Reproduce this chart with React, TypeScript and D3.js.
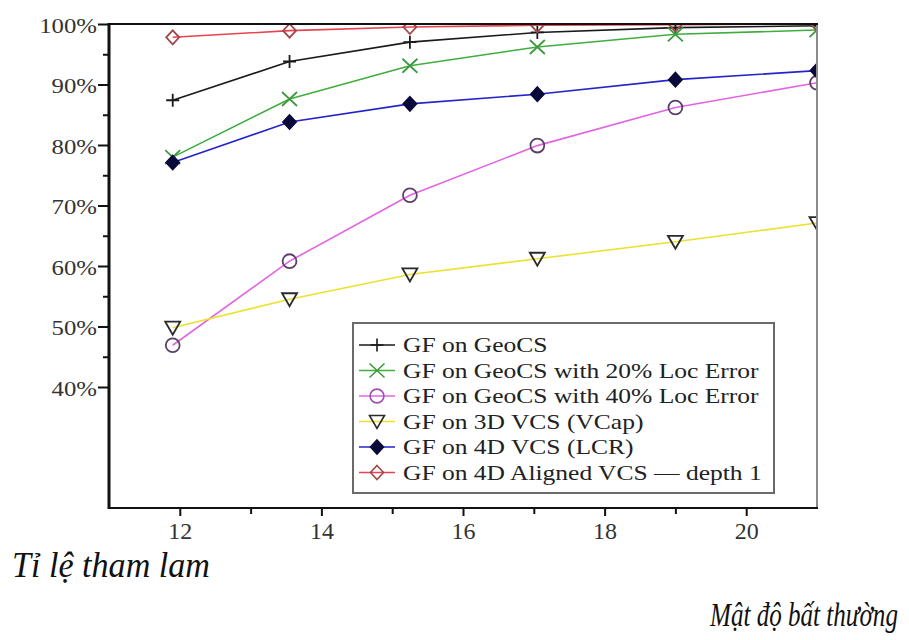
import React, { useEffect, useRef } from "react";
import * as d3 from "d3";

// anomaly density (x) and greedy ratio in % (y)
const densities = [11.9, 13.55, 15.25, 17.05, 19.0, 21.0];
const geoCS = [87.4, 93.8, 97.0, 98.6, 99.4, 99.7];
const geoCS20 = [78.0, 87.6, 93.1, 96.2, 98.3, 99.0];
const geoCS40 = [46.9, 60.8, 71.7, 79.9, 86.2, 90.3];
const vcs3d = [49.8, 54.5, 58.6, 61.2, 64.0, 67.1];
const vcs4d = [77.1, 83.8, 86.8, 88.4, 90.8, 92.3];
const aligned4d = [97.8, 98.9, 99.5, 99.8, 99.9, 100];

const seriesNames = [
  "GF on GeoCS",
  "GF on GeoCS with 20% Loc Error",
  "GF on GeoCS with 40% Loc Error",
  "GF on 3D VCS (VCap)",
  "GF on 4D VCS (LCR)",
  "GF on 4D Aligned VCS \u2014 depth 1",
];

const yTickValues = [40, 50, 60, 70, 80, 90, 100];
const yMinorValues = [45, 55, 65, 75, 85, 95];
const xTickValues = [12, 14, 16, 18, 20];
const xMinorValues = [13, 15, 17, 19];

const yLabel = "Tỉ lệ tham lam";
const xLabel = "Mật độ bất thường";

const serif = "Liberation Serif, Times New Roman, serif";

const markerPaths = {
  plus: "M-6.5,0H6.5M0,-6.5V6.5",
  cross: "M-7.5,-7L7.5,7M-7.5,7L7.5,-7",
  circle: d3.symbol(d3.symbolCircle, 150)(),
  triangle: "M-7.5,-6L7.5,-6L0,7Z",
  diamond: "M0,-7L6.5,0L0,7L-6.5,0Z",
};

const series = [
  { name: seriesNames[0], values: geoCS, line: "#1a1a1a", marker: "plus", stroke: "#1a1a1a", fill: "none" },
  { name: seriesNames[1], values: geoCS20, line: "#3fae3f", marker: "cross", stroke: "#3f9a3f", fill: "none" },
  { name: seriesNames[2], values: geoCS40, line: "#e264e2", marker: "circle", stroke: "#5a4068", fill: "none" },
  { name: seriesNames[3], values: vcs3d, line: "#ece12c", marker: "triangle", stroke: "#2a2a2a", fill: "none" },
  { name: seriesNames[4], values: vcs4d, line: "#2424c8", marker: "diamond", stroke: "#0a0a3a", fill: "#0a0a3a" },
  { name: seriesNames[5], values: aligned4d, line: "#e8424e", marker: "diamond", stroke: "#a0484c", fill: "none" },
];

// condensed italic label: shrink the font until it fits the width, then
// stretch it back up vertically so it keeps the tall look of the source
function condensedLabel(svg, text, x0, y0, size, width) {
  const t = svg
    .append("text")
    .attr("font-size", size)
    .attr("font-style", "italic")
    .attr("fill", "#111")
    .text(text);
  const len = t.node().getComputedTextLength();
  const fitted = (size * width) / len;
  t.attr("font-size", fitted).attr(
    "transform",
    "translate(" + x0 + "," + y0 + ") scale(1," + size / fitted + ")"
  );
}

function drawChart(element) {
  d3.select(element).selectAll("*").remove();

  const left = 109;
  const right = 817;
  const top = 24;
  const bottom = 508;

  const x = d3.scaleLinear().domain([11, 21]).range([left, right]);
  const y = d3.scaleLinear().domain([20, 100]).range([bottom, top]);

  const svg = d3
    .select(element)
    .attr("width", 909)
    .attr("height", 640)
    .style("font-family", serif);

  svg.append("rect").attr("width", 909).attr("height", 640).attr("fill", "#fff");

  svg
    .append("defs")
    .append("clipPath")
    .attr("id", "plot-clip")
    .append("rect")
    .attr("x", left)
    .attr("y", top)
    .attr("width", right - left)
    .attr("height", bottom - top);

  // y axis, major + minor
  const yAxis = svg
    .append("g")
    .attr("transform", "translate(" + left + ",0)")
    .call(d3.axisLeft(y).tickValues(yTickValues).tickSize(11).tickFormat((d) => d + "%"))
    .attr("font-family", serif);
  yAxis.select(".domain").remove();
  yAxis.selectAll("line").attr("stroke", "#111").attr("stroke-width", 2);
  yAxis
    .selectAll("text")
    .attr("x", 0)
    .attr("dy", "0.42em")
    .attr("transform", "translate(-12,0) scale(1.24,1)")
    .attr("font-size", 20)
    .attr("fill", "#333")
    .attr("text-anchor", "end");

  const yMinor = svg
    .append("g")
    .attr("transform", "translate(" + left + ",0)")
    .call(d3.axisLeft(y).tickValues(yMinorValues).tickSize(6).tickFormat(() => ""));
  yMinor.select(".domain").remove();
  yMinor.selectAll("line").attr("stroke", "#111").attr("stroke-width", 2);

  // x axis, major + minor
  const xAxis = svg
    .append("g")
    .attr("transform", "translate(0," + bottom + ")")
    .call(d3.axisBottom(x).tickValues(xTickValues).tickSize(8).tickPadding(6))
    .attr("font-family", serif);
  xAxis.select(".domain").remove();
  xAxis.selectAll("line").attr("stroke", "#111").attr("stroke-width", 2);
  xAxis.selectAll("text").attr("font-size", 24).attr("fill", "#333");

  const xMinor = svg
    .append("g")
    .attr("transform", "translate(0," + bottom + ")")
    .call(d3.axisBottom(x).tickValues(xMinorValues).tickSize(6).tickFormat(() => ""));
  xMinor.select(".domain").remove();
  xMinor.selectAll("line").attr("stroke", "#111").attr("stroke-width", 2);

  // lines and markers
  const plot = svg.append("g").attr("clip-path", "url(#plot-clip)");

  const line = d3
    .line()
    .x((d, i) => x(densities[i]))
    .y((d) => y(d));

  series.forEach((s) => {
    plot
      .append("path")
      .datum(s.values)
      .attr("fill", "none")
      .attr("stroke", s.line)
      .attr("stroke-width", 1.6)
      .attr("d", line);
  });

  series.forEach((s) => {
    plot
      .selectAll(null)
      .data(s.values)
      .join("path")
      .attr("transform", (d, i) => "translate(" + x(densities[i]) + "," + y(d) + ")")
      .attr("d", markerPaths[s.marker])
      .attr("fill", s.fill)
      .attr("stroke", s.stroke)
      .attr("stroke-width", 1.8);
  });

  // frame
  svg
    .append("line")
    .attr("x1", right)
    .attr("x2", right)
    .attr("y1", top)
    .attr("y2", bottom)
    .attr("stroke", "#8a8a8a")
    .attr("stroke-width", 2);
  svg
    .append("line")
    .attr("x1", left)
    .attr("x2", right + 1)
    .attr("y1", top)
    .attr("y2", top)
    .attr("stroke", "#111")
    .attr("stroke-width", 2);
  svg
    .append("line")
    .attr("x1", left)
    .attr("x2", right + 1)
    .attr("y1", bottom)
    .attr("y2", bottom)
    .attr("stroke", "#111")
    .attr("stroke-width", 2);
  svg
    .append("line")
    .attr("x1", left)
    .attr("x2", left)
    .attr("y1", top - 1)
    .attr("y2", bottom + 1)
    .attr("stroke", "#111")
    .attr("stroke-width", 3);

  // legend
  const legend = svg.append("g").attr("transform", "translate(353,323)");
  legend
    .append("rect")
    .attr("width", 421)
    .attr("height", 170)
    .attr("fill", "#fff")
    .attr("stroke", "#6a6a6a")
    .attr("stroke-width", 2);

  const rows = legend
    .selectAll("g.row")
    .data(series)
    .join("g")
    .attr("class", "row")
    .attr("transform", (d, i) => "translate(0," + (22 + i * 25.5) + ")");

  rows
    .append("line")
    .attr("x1", 6)
    .attr("x2", 42)
    .attr("stroke", (d) => d.line)
    .attr("stroke-width", 1.6);
  rows
    .append("path")
    .attr("transform", "translate(24,0)")
    .attr("d", (d) => markerPaths[d.marker])
    .attr("fill", (d) => d.fill)
    .attr("stroke", (d) => (d.marker === "circle" ? "#a050b0" : d.stroke))
    .attr("stroke-width", 1.6);
  const legendText = rows
    .append("text")
    .attr("x", 50)
    .attr("y", 7)
    .attr("font-size", 21.5)
    .attr("fill", "#222")
    .text((d) => d.name);
  // the source's legend glyphs are wide for their height: stretch to width
  legendText.each(function () {
    const len = this.getComputedTextLength();
    d3.select(this)
      .attr("textLength", len * (25.5 / 21.5))
      .attr("lengthAdjust", "spacingAndGlyphs");
  });

  // outer labels
  condensedLabel(svg, yLabel, 12, 577, 36, 198);
  condensedLabel(svg, xLabel, 710, 626, 33, 188);
}

export default function App() {
  const ref = useRef(null);

  useEffect(() => {
    drawChart(ref.current);
  }, []);

  return <svg ref={ref} style={{ position: "absolute", left: 0, top: 0, display: "block" }} />;
}
